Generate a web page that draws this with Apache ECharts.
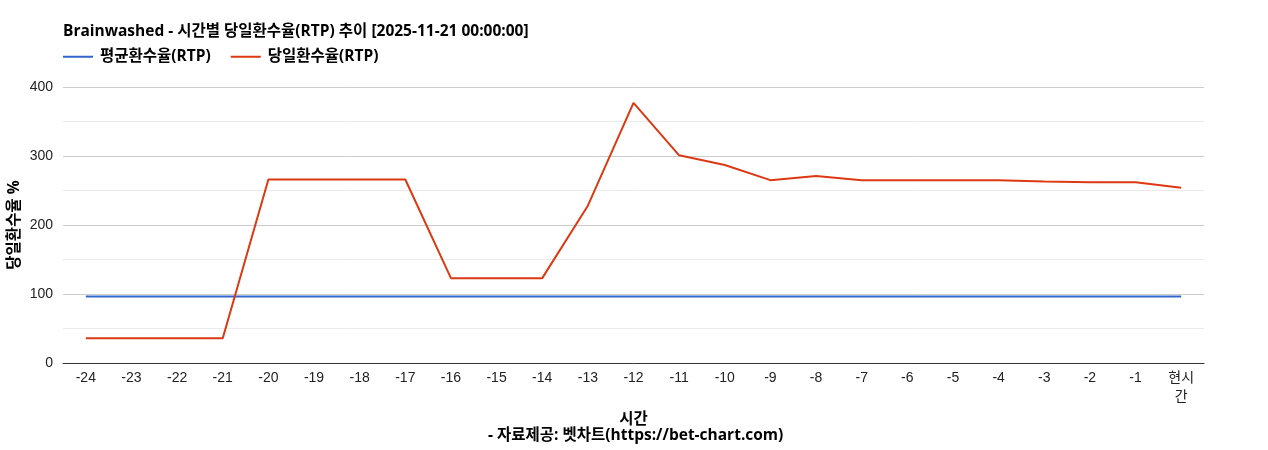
<!DOCTYPE html>
<html><head><meta charset="utf-8">
<script src="https://cdn.jsdelivr.net/npm/echarts@6/dist/echarts.min.js"></script>
<style>html,body{margin:0;padding:0;background:#fff}#c{width:1268px;height:450px}</style>
</head><body><div id="c"></div>
<script>
const categories = ['-24','-23','-22','-21','-20','-19','-18','-17','-16','-15','-14','-13','-12','-11','-10','-9','-8','-7','-6','-5','-4','-3','-2','-1','현시간'];
const avgRtp = [96.5,96.5,96.5,96.5,96.5,96.5,96.5,96.5,96.5,96.5,96.5,96.5,96.5,96.5,96.5,96.5,96.5,96.5,96.5,96.5,96.5,96.5,96.5,96.5,96.5];
const dayRtp = [36,36,36,36,266,266,266,266,123,123,123,228,377,301,287,265,271,265,265,265,265,263,262,262,254];
const yTicks = [0,100,200,300,400];
const FONT = 'Liberation Sans, Arial, "Noto Sans CJK KR", sans-serif';
const BFONT = '"Open Sans", "Noto Sans CJK KR", sans-serif';
const BS = 15.5;
const chart = echarts.init(document.getElementById('c'));
chart.setOption({
  animation:false,
  textStyle:{fontFamily:FONT},
  title:{text:'Brainwashed - 시간별 당일환수율(RTP) 추이 [2025-11-21 00:00:00]',left:58,top:19,
    textStyle:{fontSize:BS,fontWeight:'bold',color:'#000',fontFamily:BFONT}},
  legend:{left:58,top:44,itemWidth:30,itemHeight:2,itemGap:20,icon:'rect',
    textStyle:{fontSize:BS,fontWeight:'bold',color:'#000',fontFamily:BFONT,padding:[0,0,0,2]},
    data:['평균환수율(RTP)','당일환수율(RTP)']},
  grid:{left:63,right:64,top:87,bottom:87,containLabel:false,outerBoundsMode:'none'},
  xAxis:{type:'category',data:categories,boundaryGap:true,
    name:'시간',nameLocation:'middle',nameGap:43,
    nameTextStyle:{fontSize:BS,fontWeight:'bold',color:'#000',fontFamily:BFONT},
    axisLine:{lineStyle:{color:'#333'}},axisTick:{show:false},
    axisLabel:{interval:0,fontSize:14,color:'#222',margin:6,width:32,overflow:'breakAll',lineHeight:19}},
  yAxis:{type:'value',min:yTicks[0],max:yTicks[yTicks.length-1],interval:100,
    name:'당일환수율 %',nameLocation:'middle',nameGap:41,nameRotate:90,nameMoveOverlap:false,
    nameTextStyle:{fontSize:BS,fontWeight:'bold',color:'#000',fontFamily:BFONT},
    axisLabel:{fontSize:14,color:'#222',margin:10},
    axisLine:{show:false},axisTick:{show:false},
    splitLine:{lineStyle:{color:'#ccc'}},
    minorTick:{show:false,splitNumber:2},
    minorSplitLine:{show:true,lineStyle:{color:'#ebebeb'}}},
  graphic:[{type:'text',left:488,top:428,style:{text:'- 자료제공: 벳차트(https://bet-chart.com)',
    font:'bold '+BS+'px '+BFONT,fill:'#000'}}],
  series:[
    {name:'평균환수율(RTP)',type:'line',data:avgRtp,symbol:'none',lineStyle:{width:2,color:'#3366cc'},itemStyle:{color:'#3366cc'}},
    {name:'당일환수율(RTP)',type:'line',data:dayRtp,symbol:'none',lineStyle:{width:2,color:'#dc3912'},itemStyle:{color:'#dc3912'}}
  ]
});
</script></body></html>
